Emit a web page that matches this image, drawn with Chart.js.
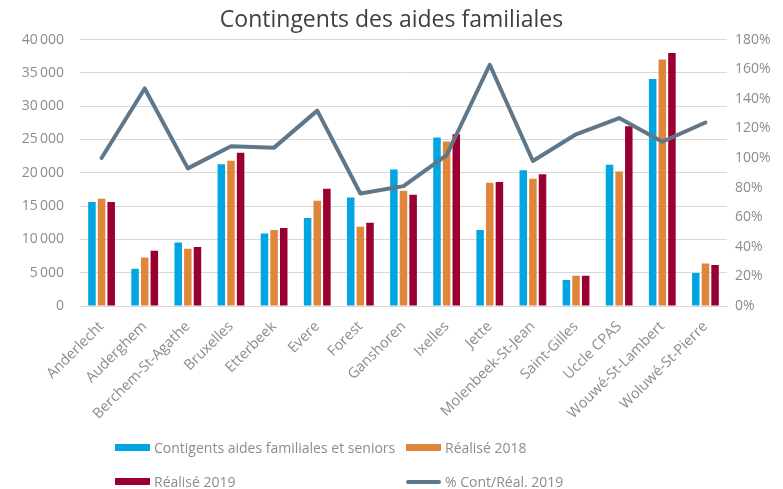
<!DOCTYPE html>
<html lang="fr">
<head>
<meta charset="utf-8">
<script src="https://cdn.jsdelivr.net/npm/chart.js@4/dist/chart.umd.min.js"></script>
<style>
  html, body { margin: 0; padding: 0; background: #fff; }
  #wrap { position: relative; width: 783px; height: 489px; }
  #legend { position: absolute; left: 0; top: 0; width: 783px; height: 489px; pointer-events: none;
            font-family: "Open Sans", sans-serif; font-size: 14px; color: #8c8c8c; }
  .item { position: absolute; display: flex; align-items: center; white-space: nowrap; }
  .swatch { width: 35px; height: 7px; margin-right: 4px; }
  .swatch.line { height: 4px; border-radius: 2px; }
</style>
</head>
<body>
<div id="wrap">
  <canvas id="aidesChart" width="783" height="489"></canvas>
  <div id="legend"></div>
</div>
<script>
const categories = ['Anderlecht', 'Auderghem', 'Berchem-St-Agathe', 'Bruxelles', 'Etterbeek', 'Evere',
  'Forest', 'Ganshoren', 'Ixelles', 'Jette', 'Molenbeek-St-Jean', 'Saint-Gilles', 'Uccle CPAS',
  'Wouwé-St-Lambert', 'Woluwé-St-Pierre'];
const contingents = [15600, 5600, 9550, 21300, 10900, 13200, 16300, 20500, 25300, 11400, 20400, 3900, 21200, 34100, 4950];
const realise2018 = [16100, 7300, 8600, 21800, 11400, 15800, 11900, 17300, 24700, 18500, 19100, 4550, 20200, 37000, 6400];
const realise2019 = [15600, 8300, 8850, 23000, 11700, 17600, 12500, 16700, 25800, 18600, 19800, 4550, 27000, 38000, 6150];
const pctContReal2019 = [100, 147, 93, 108, 107, 132, 76, 81, 102, 163, 98, 116, 127, 111, 124];

const FONT = '"Open Sans", sans-serif';
const GREY = '#8c8c8c';
const GRID = '#d9d9d9';

function thousands(v) {
  return String(v).replace(/\B(?=(\d{3})+(?!\d))/g, '\u2009');
}

const datasets = [
  { type: 'line', label: '% Cont/Réal. 2019', data: pctContReal2019, yAxisID: 'yPct',
    borderColor: '#5f7789', backgroundColor: '#5f7789', borderWidth: 4, pointRadius: 0,
    tension: 0, order: 0, borderCapStyle: 'round', borderJoinStyle: 'round' },
  { type: 'bar', label: 'Contigents aides familiales et seniors', data: contingents, yAxisID: 'y',
    backgroundColor: '#00a5e2', order: 1 },
  { type: 'bar', label: 'Réalisé 2018', data: realise2018, yAxisID: 'y',
    backgroundColor: '#e0863a', order: 1 },
  { type: 'bar', label: 'Réalisé 2019', data: realise2019, yAxisID: 'y',
    backgroundColor: '#990031', order: 1 }
];

const chart = new Chart(document.getElementById('aidesChart'), {
  data: { labels: categories, datasets: datasets },
  options: {
    responsive: false,
    animation: false,
    layout: { padding: { left: 0, right: 0, top: 0, bottom: 0 } },
    datasets: { bar: { categoryPercentage: 0.67, barPercentage: 0.78 } },
    plugins: {
      legend: { display: false },
      tooltip: { enabled: false },
      title: {
        display: true,
        text: 'Contingents des aides familiales',
        color: '#404040',
        font: { family: FONT, size: 23, weight: 'normal' },
        padding: { top: 7, bottom: 5 }
      }
    },
    scales: {
      x: {
        grid: { display: false },
        border: { display: true, color: GRID, width: 1 },
        ticks: { color: GREY, font: { family: FONT, size: 14.5 }, minRotation: 45, maxRotation: 45, padding: 4 },
        afterFit: s => { s.height = 183; }
      },
      y: {
        position: 'left',
        min: 0, max: 40000,
        border: { display: false },
        grid: { color: GRID, lineWidth: 1, drawTicks: false },
        ticks: { stepSize: 5000, color: GREY, font: { family: FONT, size: 14 }, padding: 16,
                 callback: v => thousands(v) },
        afterFit: s => { s.width = 80; }
      },
      yPct: {
        position: 'right',
        min: 0, max: 180,
        border: { display: false },
        grid: { display: false, drawTicks: false },
        ticks: { stepSize: 20, color: GREY, font: { family: FONT, size: 14 }, padding: 8,
                 callback: v => v + '%' },
        afterFit: s => { s.width = 56; }
      }
    }
  }
});

// legend in two fixed columns under the chart
const legendSlots = [
  { label: 'Contigents aides familiales et seniors', x: 115, y: 438 },
  { label: 'Réalisé 2018', x: 406, y: 438 },
  { label: 'Réalisé 2019', x: 115, y: 472 },
  { label: '% Cont/Réal. 2019', x: 406, y: 472 }
];
const legendEl = document.getElementById('legend');
legendSlots.forEach(slot => {
  const ds = chart.data.datasets.find(d => d.label === slot.label);
  const item = document.createElement('div');
  item.className = 'item';
  item.style.left = slot.x + 'px';
  item.style.top = slot.y + 'px';
  const sw = document.createElement('span');
  sw.className = 'swatch' + (ds.type === 'line' ? ' line' : '');
  sw.style.background = ds.type === 'line' ? ds.borderColor : ds.backgroundColor;
  const txt = document.createElement('span');
  txt.textContent = ds.label;
  item.appendChild(sw);
  item.appendChild(txt);
  legendEl.appendChild(item);
});
</script>
</body>
</html>
